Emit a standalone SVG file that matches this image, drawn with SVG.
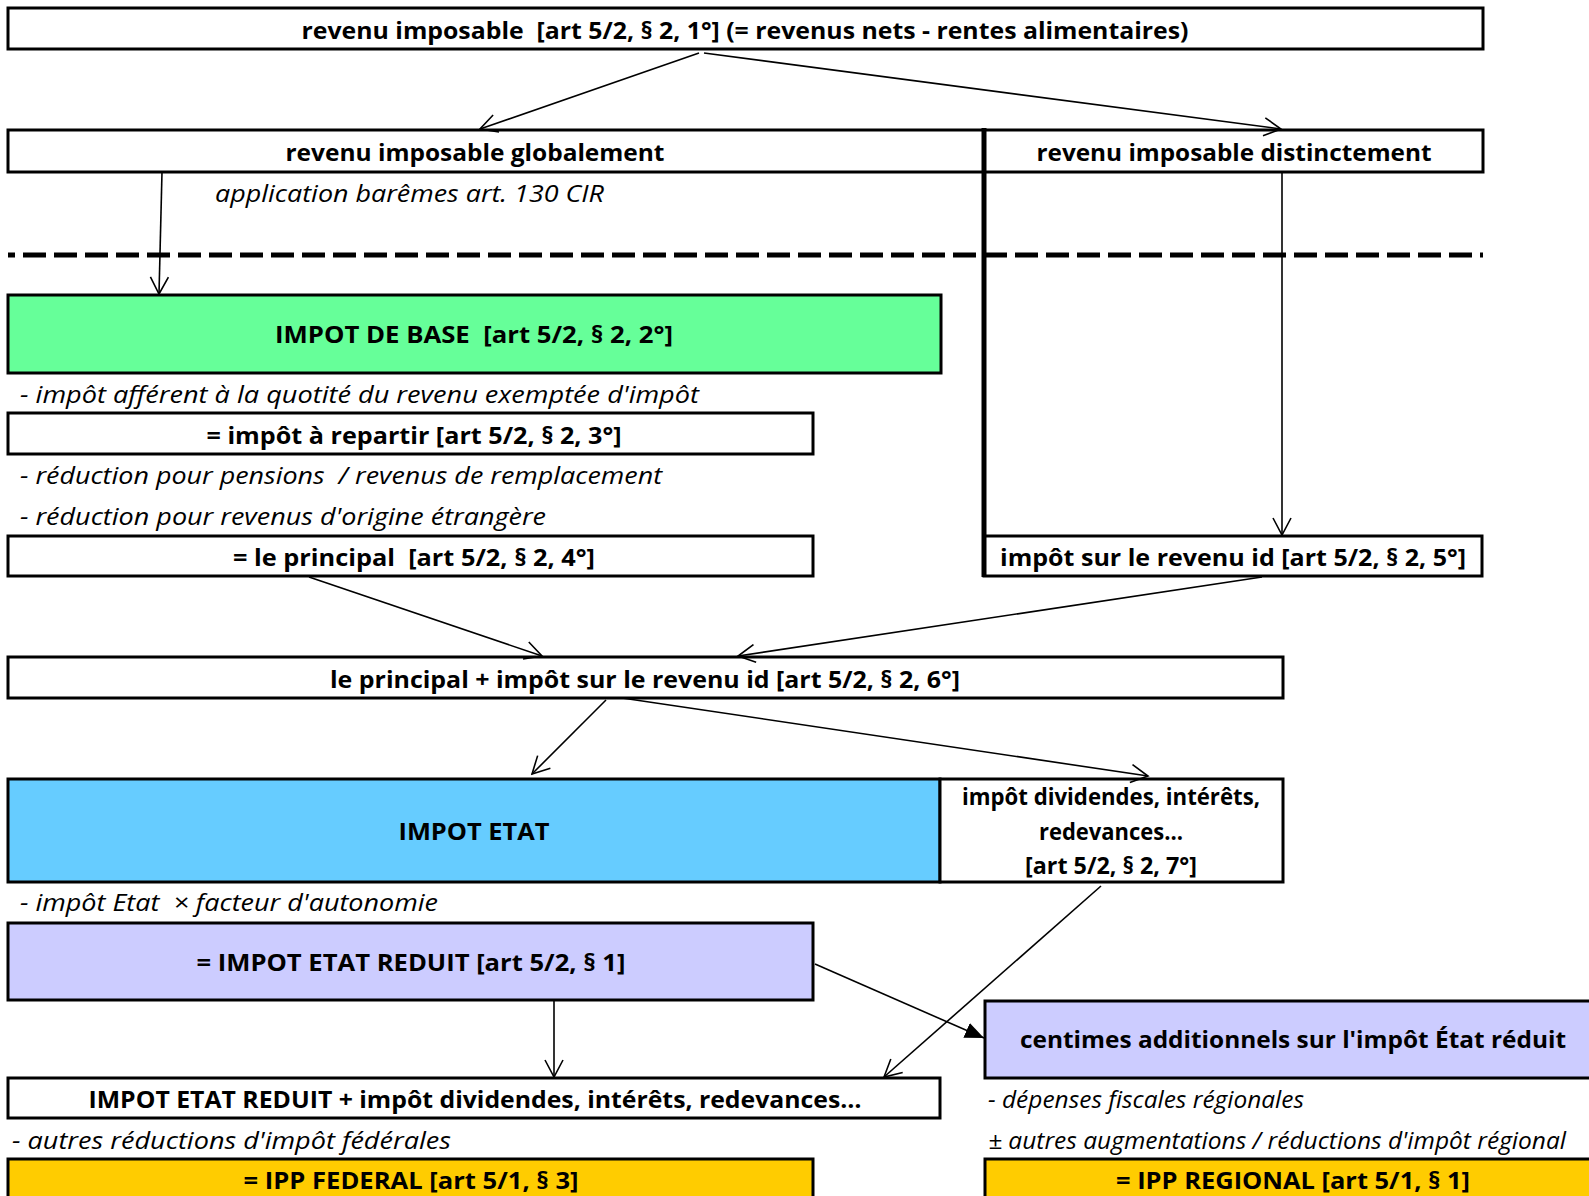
<svg xmlns="http://www.w3.org/2000/svg" width="1589" height="1196" viewBox="0 0 1589 1196">
<defs>
<style>
.box{stroke:#000;stroke-width:3;fill:#fff}
.green{fill:#66FF99}.blue{fill:#66CCFF}.lav{fill:#CCCCFF}.yel{fill:#FFCC00}
.b{font-family:"Open Sans","Noto Sans",sans-serif;font-weight:bold;font-size:24px;fill:#000;text-anchor:middle;dominant-baseline:central;white-space:pre}
.i{font-family:"Open Sans","Noto Sans",sans-serif;font-style:italic;font-size:23px;fill:#000;dominant-baseline:central;white-space:pre}
.c{stroke:#000;stroke-width:1.6;fill:none;marker-end:url(#open)}
</style>
<marker id="open" markerUnits="userSpaceOnUse" markerWidth="20" markerHeight="20" viewBox="0 0 20 20" refX="18" refY="10" orient="auto">
<path d="M1,1 L18,10 L1,19" fill="none" stroke="#000" stroke-width="1.6"/>
</marker>
<marker id="filled" markerUnits="userSpaceOnUse" markerWidth="20" markerHeight="16" viewBox="0 0 20 16" refX="19" refY="8" orient="auto">
<path d="M0,0 L19,8 L0,16 Z" fill="#000"/>
</marker>
</defs>
<rect width="1589" height="1196" fill="#fff"/>

<g id="separators">
<line x1="8" y1="255" x2="1483" y2="255" stroke="#000" stroke-width="5" stroke-dasharray="23 8" stroke-dashoffset="16"/>
</g>

<g id="n-top">
<rect class="box" x="8" y="8" width="1475" height="41"/>
<text class="b" x="745" y="29" textLength="887" lengthAdjust="spacingAndGlyphs">revenu imposable  [art 5/2, § 2, 1°] (= revenus nets - rentes alimentaires)</text>
</g>

<g id="n-global">
<rect class="box" x="8" y="130" width="976" height="42"/>
<text class="b" x="475" y="151" textLength="379" lengthAdjust="spacingAndGlyphs">revenu imposable globalement</text>
<text class="i" x="215" y="193" textLength="389" lengthAdjust="spacingAndGlyphs">application barêmes art. 130 CIR</text>
</g>

<g id="n-distinct">
<rect class="box" x="984" y="130" width="499" height="42"/>
<text class="b" x="1234" y="151" textLength="395" lengthAdjust="spacingAndGlyphs">revenu imposable distinctement</text>
</g>

<g id="n-base">
<rect class="box green" x="8" y="295" width="933" height="78"/>
<text class="b" x="474" y="333" textLength="398" lengthAdjust="spacingAndGlyphs">IMPOT DE BASE  [art 5/2, § 2, 2°]</text>
<text class="i" x="20" y="394" textLength="679" lengthAdjust="spacingAndGlyphs">- impôt afférent à la quotité du revenu exemptée d'impôt</text>
</g>

<g id="n-repartir">
<rect class="box" x="8" y="413" width="805" height="41"/>
<text class="b" x="414" y="434" textLength="415" lengthAdjust="spacingAndGlyphs">= impôt à repartir [art 5/2, § 2, 3°]</text>
<text class="i" x="20" y="475" textLength="642" lengthAdjust="spacingAndGlyphs">- réduction pour pensions  / revenus de remplacement</text>
<text class="i" x="20" y="516" textLength="526" lengthAdjust="spacingAndGlyphs">- réduction pour revenus d'origine étrangère</text>
</g>

<g id="n-principal">
<rect class="box" x="8" y="536" width="805" height="40"/>
<text class="b" x="414" y="556" textLength="362" lengthAdjust="spacingAndGlyphs">= le principal  [art 5/2, § 2, 4°]</text>
</g>

<g id="n-id">
<rect class="box" x="984" y="536" width="498" height="40"/>
<line x1="984" y1="128" x2="984" y2="577" stroke="#000" stroke-width="5"/>
<text class="b" x="1233" y="556" textLength="466" lengthAdjust="spacingAndGlyphs">impôt sur le revenu id [art 5/2, § 2, 5°]</text>
</g>

<g id="n-sum">
<rect class="box" x="8" y="657" width="1275" height="41"/>
<text class="b" x="645" y="678" textLength="630" lengthAdjust="spacingAndGlyphs">le principal + impôt sur le revenu id [art 5/2, § 2, 6°]</text>
</g>

<g id="n-etat">
<rect class="box blue" x="8" y="779" width="932" height="103"/>
<text class="b" x="474" y="830" textLength="151" lengthAdjust="spacingAndGlyphs">IMPOT ETAT</text>
<text class="i" x="20" y="902" textLength="418" lengthAdjust="spacingAndGlyphs">- impôt Etat  × facteur d'autonomie</text>
</g>

<g id="n-dividendes">
<rect class="box" x="940" y="779" width="343" height="103"/>
<text class="b" x="1111" y="795" textLength="298" lengthAdjust="spacingAndGlyphs">impôt dividendes, intérêts,</text>
<text class="b" x="1111" y="830" textLength="144" lengthAdjust="spacingAndGlyphs">redevances…</text>
<text class="b" x="1111" y="864" textLength="172" lengthAdjust="spacingAndGlyphs">[art 5/2, § 2, 7°]</text>
</g>

<g id="n-reduit">
<rect class="box lav" x="8" y="923" width="805" height="77"/>
<text class="b" x="411" y="961" textLength="429" lengthAdjust="spacingAndGlyphs">= IMPOT ETAT REDUIT [art 5/2, § 1]</text>
</g>

<g id="n-centimes">
<rect class="box lav" x="985" y="1001" width="650" height="77"/>
<text class="b" x="1293" y="1038" textLength="546" lengthAdjust="spacingAndGlyphs">centimes additionnels sur l'impôt État réduit</text>
<text class="i" x="988" y="1099" textLength="316" lengthAdjust="spacingAndGlyphs">- dépenses fiscales régionales</text>
<text class="i" x="988" y="1140" textLength="578" lengthAdjust="spacingAndGlyphs">± autres augmentations / réductions d'impôt régional</text>
</g>

<g id="n-reduit-plus">
<rect class="box" x="8" y="1078" width="932" height="40"/>
<text class="b" x="475" y="1098" textLength="773" lengthAdjust="spacingAndGlyphs">IMPOT ETAT REDUIT + impôt dividendes, intérêts, redevances…</text>
<text class="i" x="12" y="1140" textLength="439" lengthAdjust="spacingAndGlyphs">- autres réductions d'impôt fédérales</text>
</g>

<g id="n-federal">
<rect class="box yel" x="8" y="1159" width="805" height="60"/>
<text class="b" x="411" y="1179" textLength="335" lengthAdjust="spacingAndGlyphs">= IPP FEDERAL [art 5/1, § 3]</text>
</g>

<g id="n-regional">
<rect class="box yel" x="985" y="1159" width="650" height="60"/>
<text class="b" x="1293" y="1179" textLength="354" lengthAdjust="spacingAndGlyphs">= IPP REGIONAL [art 5/1, § 1]</text>
</g>

<g id="connectors">
<line class="c" x1="699" y1="53" x2="480" y2="129"/>
<line class="c" x1="704" y1="53" x2="1281" y2="129"/>
<line class="c" x1="162" y1="172" x2="159" y2="294"/>
<line class="c" x1="1282" y1="172" x2="1282" y2="535"/>
<line class="c" x1="309" y1="577" x2="542" y2="656"/>
<line class="c" x1="1262" y1="577" x2="738" y2="656"/>
<line class="c" x1="606" y1="700" x2="532" y2="774"/>
<line class="c" x1="622" y1="698" x2="1148" y2="776"/>
<line class="c" x1="554" y1="1000" x2="554" y2="1077"/>
<line class="c" x1="1101" y1="886" x2="884" y2="1077"/>
<line x1="815" y1="964" x2="984" y2="1038" stroke="#000" stroke-width="1.6" marker-end="url(#filled)"/>
</g>
</svg>
